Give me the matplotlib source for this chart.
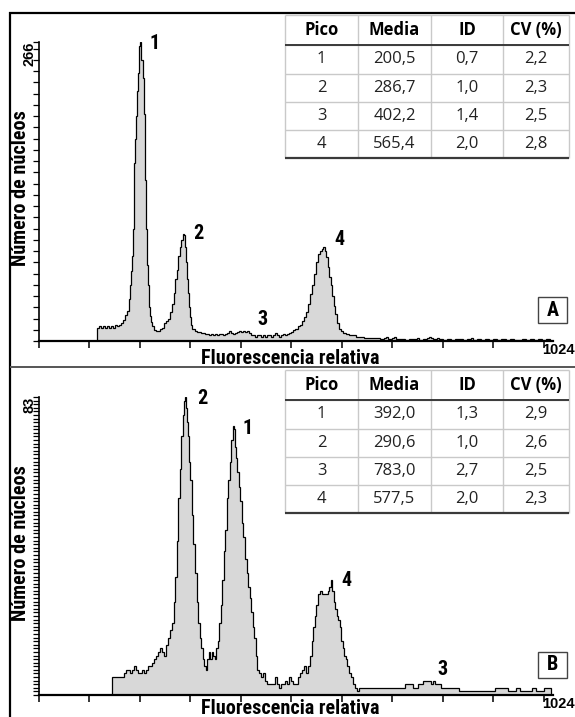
import matplotlib
matplotlib.use("Agg")
import matplotlib.pyplot as plt
from matplotlib.lines import Line2D
from matplotlib.patches import Rectangle
from matplotlib import font_manager

# ---------------- data ----------------
# Panel A histogram: left channel edge of each step and counts
a_chan = [114, 118, 122, 126, 130, 134, 138, 142, 146, 150, 154, 158, 162, 166, 170, 174, 178, 181, 183, 185,
          187, 189, 191, 193, 195, 197, 199, 201, 203, 205, 207, 209, 211, 213, 215, 217, 219, 221, 224, 228,
          232, 236, 240, 244, 248, 252, 256, 260, 264, 267, 270, 273, 276, 279, 282, 285, 287, 289, 291, 293,
          295, 297, 299, 301, 304, 308, 312, 316, 320, 324, 328, 332, 336, 340, 344, 348, 352, 356, 360, 364,
          368, 372, 376, 380, 384, 388, 392, 396, 400, 404, 408, 412, 416, 420, 424, 428, 432, 436, 440, 444,
          448, 452, 456, 460, 464, 468, 472, 476, 480, 484, 488, 492, 496, 500, 504, 508, 512, 516, 520, 524,
          528, 532, 536, 540, 544, 548, 552, 556, 560, 563, 566, 569, 572, 575, 578, 581, 584, 587, 590, 594,
          598, 602, 608, 614, 620, 628, 636, 644, 652, 660, 668, 676, 684, 688, 692, 700, 704, 708, 716, 724,
          732, 740, 748, 752, 760, 768, 772, 776, 780, 788, 792, 800, 808, 816, 824, 832, 840, 848, 856, 860,
          868, 876, 884, 892, 900, 908, 916, 924, 932, 940, 948, 956, 964, 972, 980, 988, 996, 1004]
a_count = [12, 13, 12, 13, 12, 13, 12, 13, 12, 14, 13, 14, 16, 19, 23, 27, 37, 50, 62, 76,
           100, 158, 180, 200, 222, 238, 262, 266, 250, 234, 202, 143, 100, 68, 50, 30, 22, 17, 13, 10,
           9, 9, 11, 12, 16, 18, 20, 26, 33, 43, 55, 63, 76, 84, 90, 95, 94, 84, 70, 55,
           43, 30, 21, 14, 11, 9, 8, 8, 7, 7, 6, 6, 5, 6, 5, 6, 5, 6, 6, 5,
           6, 7, 9, 7, 6, 7, 8, 9, 8, 9, 8, 9, 7, 5, 5, 4, 5, 5, 4, 5,
           4, 5, 5, 4, 5, 7, 5, 4, 5, 6, 5, 6, 7, 8, 10, 11, 13, 14, 18, 21,
           26, 33, 42, 50, 60, 70, 77, 80, 82, 84, 80, 75, 66, 57, 50, 40, 31, 24, 16, 11,
           9, 7, 6, 5, 5, 4, 4, 3, 3, 3, 3, 2, 3, 4, 2, 3, 4, 2, 2, 1,
           2, 2, 3, 1, 2, 3, 4, 3, 2, 3, 2, 1, 2, 1, 2, 2, 1, 2, 3, 1,
           2, 1, 2, 1, 2, 1, 2, 1, 2, 1, 1, 2, 1, 2, 1, 2, 1, 2]
a_end = 1012

# Panel B histogram
b_chan = [144, 150, 156, 162, 168, 172, 176, 180, 184, 188, 192, 196, 200, 204, 208, 212, 216, 220, 224, 228,
          232, 236, 240, 244, 248, 252, 256, 260, 264, 267, 270, 273, 276, 279, 282, 285, 287, 289, 291, 293,
          295, 297, 300, 303, 306, 309, 312, 315, 318, 321, 324, 327, 330, 333, 336, 339, 342, 345, 348, 351,
          354, 357, 360, 363, 366, 369, 372, 375, 378, 381, 384, 386, 388, 390, 393, 396, 399, 402, 405, 408,
          411, 414, 417, 420, 423, 426, 429, 432, 435, 440, 444, 448, 452, 456, 460, 464, 468, 472, 476, 480,
          484, 488, 492, 496, 500, 504, 508, 512, 516, 520, 524, 528, 532, 536, 540, 543, 546, 549, 552, 556,
          560, 564, 568, 572, 575, 578, 581, 584, 587, 590, 593, 596, 599, 602, 605, 608, 611, 614, 618, 622,
          626, 630, 634, 640, 648, 656, 664, 672, 680, 688, 696, 704, 712, 720, 724, 732, 740, 744, 750, 756,
          760, 766, 772, 776, 780, 784, 788, 792, 796, 800, 808, 816, 832, 848, 866, 880, 892, 904, 912, 920,
          928, 936, 944, 952, 960, 968, 976, 984, 992, 1000]
b_count = [5, 5, 5, 5, 6, 7, 7, 6, 7, 8, 7, 6, 6, 7, 6, 7, 8, 8, 9, 10,
           11, 12, 13, 12, 11, 14, 16, 18, 20, 26, 33, 43, 55, 63, 72, 78, 82, 83, 80, 76,
           72, 65, 60, 50, 42, 34, 26, 20, 16, 13, 10, 8, 7, 10, 12, 10, 12, 11, 10, 13,
           15, 20, 25, 32, 40, 46, 55, 60, 65, 71, 75, 74, 69, 66, 62, 58, 54, 48, 44, 38,
           34, 30, 27, 23, 19, 16, 11, 7, 6, 5, 6, 4, 3, 3, 3, 3, 5, 3, 2, 3,
           3, 4, 3, 5, 4, 3, 3, 5, 6, 7, 8, 6, 8, 11, 15, 19, 22, 25, 28, 29,
           28, 28, 28, 29, 30, 32, 29, 26, 24, 22, 21, 19, 15, 13, 11, 10, 8, 6, 5, 3,
           2, 1, 2, 2, 2, 2, 2, 2, 2, 2, 2, 2, 2, 2, 3, 3, 2, 2, 3, 3,
           4, 4, 4, 3, 4, 3, 3, 3, 2, 2, 2, 2, 1, 1, 1, 1, 1, 2, 2, 2,
           1, 1, 2, 1, 1, 1, 2, 1, 1, 2]
b_end = 1014

a_ymax = 266
b_ymax = 83
x_max = 1024
x_ticks = [0, 100, 200, 300, 400, 500, 600, 700, 800, 900, 1000]

# peak labels: (label, channel, count)
a_peaks = [("1", 229, 265), ("2", 315, 96), ("3", 443, 19), ("4", 595, 90)]
b_peaks = [("2", 324, 82.6), ("1", 413, 74.3), ("4", 609, 32), ("3", 799, 7.0)]

table_header = ["Pico", "Media", "ID", "CV (%)"]
table_a = [["1", "200,5", "0,7", "2,2"],
           ["2", "286,7", "1,0", "2,3"],
           ["3", "402,2", "1,4", "2,5"],
           ["4", "565,4", "2,0", "2,8"]]
table_b = [["1", "392,0", "1,3", "2,9"],
           ["2", "290,6", "1,0", "2,6"],
           ["3", "783,0", "2,7", "2,5"],
           ["4", "577,5", "2,0", "2,3"]]

xlabel = "Fluorescencia relativa"
ylabel = "Número de núcleos"

# ---------------- drawing ----------------
W, H = 575, 717
fig = plt.figure(figsize=(W / 100, H / 100), dpi=100)
fig.patch.set_facecolor("white")

installed = {f.name for f in font_manager.fontManager.ttflist}
narrow_pref = [n for n in ["Liberation Sans Narrow", "Roboto Condensed", "DejaVu Sans Condensed",
                           "Open Sans Condensed", "Roboto"] if n in installed]
NARROW = (narrow_pref[:1] or ["DejaVu Sans"]) + ["DejaVu Sans"]
ARIAL = ["Liberation Sans", "DejaVu Sans"]
TABLEF = ["Open Sans", "DejaVu Sans"]
NSTRETCH = "condensed"


def fx(x):
    return x / W


def fy(y):
    return 1 - y / H


def hline(x0, x1, y, color, lw):
    fig.add_artist(Line2D([fx(x0), fx(x1)], [fy(y), fy(y)], color=color, lw=lw,
                          transform=fig.transFigure, solid_capstyle="butt"))


def vline(x, y0, y1, color, lw):
    fig.add_artist(Line2D([fx(x), fx(x)], [fy(y0), fy(y1)], color=color, lw=lw,
                          transform=fig.transFigure, solid_capstyle="butt"))


def ntext(x, y, s, size, **kw):
    return fig.text(x, y, s, fontsize=size, fontweight="bold", family=NARROW,
                    fontstretch=NSTRETCH, **kw)


def panel(top_px, base_px, chan, count, end, ymax, ytick_step, ylab_top, peaks,
          table_rows, tab_y0, box_letter, box_y, xlab_y):
    ax = fig.add_axes([fx(39), fy(base_px), (556 - 39) / W, (base_px - top_px) / H])
    edges = list(chan) + [end]
    ax.stairs(count, edges, fill=True, color="#d8d8d8", zorder=1)
    ax.stairs(count, edges, baseline=0, color="black", lw=0.9, zorder=2)
    ax.set_xlim(0, x_max)
    ax.set_ylim(0, ymax)
    for s in ["top", "right"]:
        ax.spines[s].set_visible(False)
    ax.spines["left"].set_linewidth(1.2)
    ax.spines["bottom"].set_linewidth(1.6)
    ax.spines["bottom"].set_bounds(0, 1018)
    ax.set_xticks(x_ticks)
    ax.set_xticklabels([])
    yt = list(range(0, ymax + 1, ytick_step))
    if yt[-1] != ymax:
        yt.append(ymax)
    ax.set_yticks(yt)
    ax.set_yticklabels([])
    ax.tick_params(axis="x", direction="out", length=5, width=1.1, color="black")
    ax.tick_params(axis="y", direction="out", length=4, width=0.9, color="black")
    ax.patch.set_alpha(0)

    for lab, c, v in peaks:
        ax.text(c, v, lab, fontsize=14.5, fontweight="bold", family=NARROW, fontstretch=NSTRETCH,
                ha="center", va="center", clip_on=False)

    # labels
    ntext(fx(21), fy((top_px + base_px) / 2 - 3), ylabel, 14.5, rotation=90,
          ha="center", va="center")
    fig.text(fx(30), fy(top_px), ylab_top, rotation=90, fontsize=10.5,
             fontweight="bold", family=ARIAL, ha="center", va="top")
    ntext(fx(290), fy(xlab_y), xlabel, 14.5, ha="center", va="center")
    fig.text(fx(558), fy(base_px + 9), "1024", fontsize=10.5, fontweight="bold",
             family=ARIAL, ha="center", va="center")

    # box letter
    fig.add_artist(Rectangle((fx(538), fy(box_y + 13)), 29 / W, 26 / H, transform=fig.transFigure,
                             facecolor="white", edgecolor="#444444", lw=1.0))
    ntext(fx(552.5), fy(box_y), box_letter, 14.5, ha="center", va="center")

    # table
    xs = [285, 358, 431, 503, 569]
    ys = [tab_y0, tab_y0 + 30, tab_y0 + 58.5, tab_y0 + 87, tab_y0 + 115, tab_y0 + 143]
    fig.add_artist(Rectangle((fx(xs[0]), fy(ys[-1])), (xs[-1] - xs[0]) / W, (ys[-1] - ys[0]) / H,
                             transform=fig.transFigure, facecolor="white", edgecolor="none"))
    grid = "#c9c9c9"
    for x in xs:
        vline(x, ys[0], ys[-1], grid, 1.0)
    for y in ys[:-1]:
        hline(xs[0], xs[-1], y, grid, 1.0)
    hline(xs[0], xs[-1], ys[1], "#3a3a3a", 1.4)
    hline(xs[0], xs[-1], ys[-1], "#3a3a3a", 1.6)
    for j, h in enumerate(table_header):
        fig.text(fx((xs[j] + xs[j + 1]) / 2), fy((ys[0] + ys[1]) / 2), h, fontsize=12,
                 fontweight="bold", family=TABLEF, ha="center", va="center")
    for i, row in enumerate(table_rows):
        for j, v in enumerate(row):
            fig.text(fx((xs[j] + xs[j + 1]) / 2), fy((ys[i + 1] + ys[i + 2]) / 2), v,
                     fontsize=12, family=TABLEF, ha="center", va="center", color="#222222")
    return ax


panel(42, 341, a_chan, a_count, a_end, a_ymax, 10, str(a_ymax), a_peaks, table_a, 15, "A", 310, 359)
panel(397, 695, b_chan, b_count, b_end, b_ymax, 1, str(b_ymax), b_peaks, table_b, 370, "B", 665, 708)

# outer frame and separator
hline(9, 575, 13, "black", 1.6)
vline(10, 12, 717, "black", 1.6)
hline(10, 575, 367, "#555555", 1.4)

fig.savefig("out.png", dpi=100)
